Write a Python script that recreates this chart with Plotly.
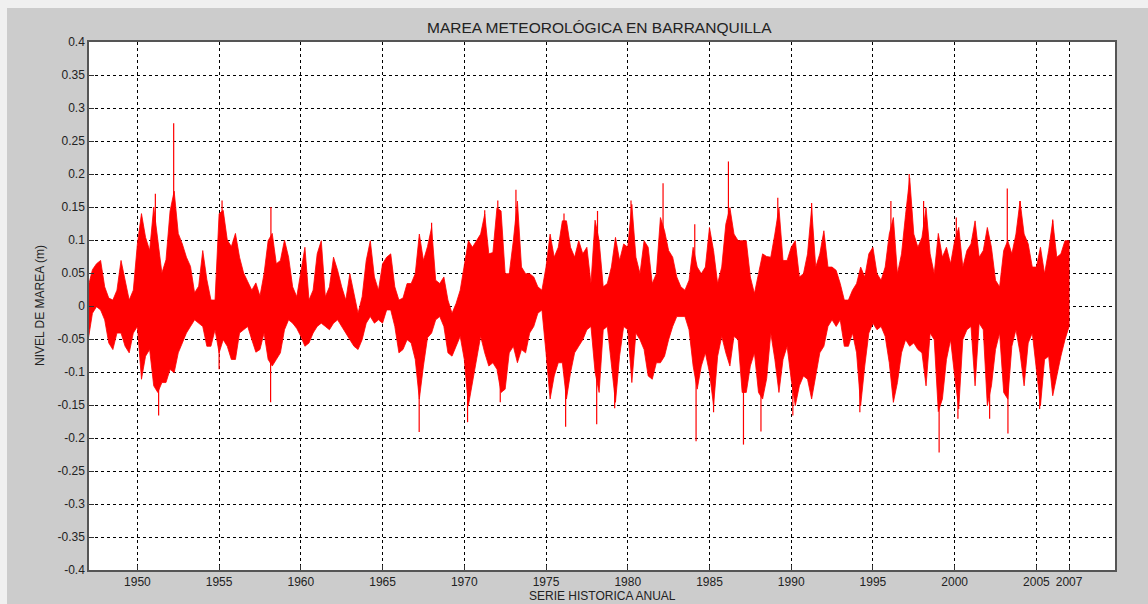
import numpy as np
import plotly.graph_objects as go

# Quarter-year sampling grid of the meteorological tide record
t_grid = np.arange(1947.0, 2007.001, 0.25)

# Upper envelope of the tide level per quarter (m)
nivel_max = [
    0.03, 0.055, 0.064, 0.069,   0.029, 0.012, 0.009, 0.024,   0.069, 0.04, 0.009, 0.024,
    0.094, 0.14, 0.104, 0.084,   0.15, 0.10, 0.05, 0.07,       0.144, 0.174, 0.11, 0.094,
    0.074, 0.06, 0.02, 0.03,     0.084, 0.04, 0.009, 0.009,    0.14, 0.145, 0.10, 0.09,
    0.11, 0.074, 0.05, 0.037,    0.024, 0.035, 0.015, 0.049,   0.099, 0.11, 0.064, 0.069,
    0.10, 0.074, 0.029, 0.014,   0.049, 0.089, 0.009, 0.024,   0.079, 0.099, 0.014, 0.029,
    0.074, 0.054, 0.029, 0.009,  0.049, 0.019, -0.011, 0.014,  0.069, 0.099, 0.044, 0.024,
    0.064, 0.074, 0.079, 0.029,  0.009, 0.012, 0.034, 0.034,   0.049, 0.109, 0.069, 0.09,
    0.119, 0.039, 0.034, 0.044,  0.009, -0.011, 0.004, 0.024,  0.059, 0.099, 0.089, 0.099,
    0.109, 0.139, 0.079, 0.081,  0.149, 0.144, 0.049, 0.049,   0.099, 0.159, 0.059, 0.049,
    0.049, 0.044, 0.029, 0.024,  0.059, 0.109, 0.074, 0.089,   0.129, 0.129, 0.089, 0.074,
    0.099, 0.079, 0.089, 0.034,  0.13, 0.099, 0.029, 0.034,    0.059, 0.104, 0.069, 0.094,
    0.089, 0.154, 0.074, 0.049,  0.099, 0.089, 0.034, 0.049,   0.134, 0.114, 0.084, 0.074,
    0.044, 0.029, 0.024, 0.039,  0.089, 0.059, 0.049, 0.059,   0.119, 0.084, 0.034, 0.059,
    0.124, 0.149, 0.109, 0.099,  0.099, 0.099, 0.044, 0.019,   0.049, 0.079, 0.075, 0.074,
    0.109, 0.149, 0.069, 0.069,  0.089, 0.099, 0.044, 0.049,   0.079, 0.149, 0.059, 0.079,
    0.114, 0.059, 0.059, 0.054,  0.034, 0.009, 0.009, 0.024,   0.034, 0.059, 0.044, 0.079,
    0.089, 0.049, 0.039, 0.059,  0.109, 0.134, 0.049, 0.079,   0.139, 0.194, 0.109, 0.089,
    0.104, 0.149, 0.079, 0.049,  0.11, 0.074, 0.089, 0.064,    0.099, 0.119, 0.059, 0.084,
    0.094, 0.129, 0.074, 0.084,  0.119, 0.089, 0.039, 0.029,   0.084, 0.099, 0.079, 0.109,
    0.159, 0.109, 0.094, 0.059,  0.059, 0.089, 0.049, 0.084,   0.129, 0.074, 0.079, 0.099,
    0.099,
]

# Lower envelope of the tide level per quarter (m)
nivel_min = [
    -0.05, -0.011, -0.001, -0.006,  -0.021, -0.056, -0.066, -0.041,  -0.041, -0.061, -0.071, -0.041,
    -0.031, -0.111, -0.076, -0.066, -0.121, -0.131, -0.116, -0.116,  -0.096, -0.101, -0.071, -0.056,
    -0.041, -0.031, -0.021, -0.026, -0.031, -0.061, -0.061, -0.036,  -0.071, -0.051, -0.061, -0.081,
    -0.081, -0.041, -0.036, -0.031, -0.051, -0.07, -0.066, -0.041,   -0.081, -0.091, -0.081, -0.071,
    -0.036, -0.021, -0.026, -0.034, -0.046, -0.061, -0.056, -0.041,  -0.031, -0.026, -0.031, -0.036,
    -0.026, -0.021, -0.031, -0.041, -0.051, -0.061, -0.066, -0.051,  -0.026, -0.016, -0.026, -0.021,
    -0.026, -0.006, -0.006, -0.031, -0.071, -0.066, -0.051, -0.056,  -0.081, -0.141, -0.091, -0.048,
    -0.041, -0.021, -0.016, -0.031, -0.071, -0.076, -0.061, -0.046,  -0.081, -0.151, -0.111, -0.081,
    -0.046, -0.071, -0.091, -0.086, -0.096, -0.131, -0.126, -0.071,  -0.061, -0.086, -0.066, -0.071,
    -0.041, -0.031, -0.011, -0.006, -0.071, -0.141, -0.106, -0.086,  -0.086, -0.141, -0.101, -0.071,
    -0.061, -0.051, -0.036, -0.031, -0.10, -0.131, -0.036, -0.031,   -0.086, -0.146, -0.076, -0.031,
    -0.036, -0.116, -0.041, -0.051, -0.066, -0.106, -0.111, -0.086,  -0.086, -0.076, -0.051, -0.031,
    -0.016, -0.016, -0.016, -0.036, -0.091, -0.126, -0.091, -0.071,  -0.101, -0.151, -0.076, -0.046,
    -0.071, -0.091, -0.046, -0.051, -0.131, -0.131, -0.091, -0.071,  -0.131, -0.141, -0.11, -0.041,
    -0.081, -0.131, -0.081, -0.061, -0.111, -0.151, -0.121, -0.106,  -0.111, -0.141, -0.106, -0.071,
    -0.061, -0.031, -0.021, -0.031, -0.021, -0.061, -0.061, -0.041,  -0.071, -0.151, -0.091, -0.041,
    -0.026, -0.036, -0.031, -0.046, -0.086, -0.146, -0.116, -0.071,  -0.051, -0.061, -0.056, -0.066,
    -0.071, -0.121, -0.041, -0.051, -0.16, -0.141, -0.081, -0.051,   -0.106, -0.156, -0.051, -0.036,
    -0.031, -0.121, -0.026, -0.036, -0.151, -0.121, -0.066, -0.041,  -0.131, -0.141, -0.061, -0.036,
    -0.071, -0.121, -0.056, -0.041, -0.091, -0.151, -0.081, -0.076,  -0.136, -0.106, -0.076, -0.051,
    -0.031,
]

# Isolated surge peaks rising above the envelope (year, m)
pico_t = [1951.1, 1952.22, 1955.18, 1958.17, 1968.0, 1971.25, 1972.05, 1973.16, 1976.1,
          1978.15, 1980.2, 1982.16, 1984.1, 1986.16, 1989.18, 1991.25, 1996.1, 1997.22,
          1998.1, 2000.1, 2003.22, 2004.0, 2006.0]
pico_v = [0.17, 0.277, 0.16, 0.15, 0.126, 0.145, 0.16, 0.176, 0.14,
          0.144, 0.16, 0.186, 0.124, 0.219, 0.164, 0.156, 0.159, 0.2,
          0.159, 0.134, 0.178, 0.159, 0.131]

# Isolated drops below the envelope (year, m)
valle_t = [1951.3, 1955.0, 1958.15, 1967.24, 1970.2, 1972.2, 1976.2, 1978.1, 1979.2,
           1984.18, 1985.25, 1987.08, 1988.15, 1990.1, 1994.2, 1999.05, 2000.2, 2002.14,
           2003.26, 2005.2]
valle_v = [-0.166, -0.096, -0.146, -0.191, -0.176, -0.146, -0.183, -0.179, -0.155,
           -0.205, -0.161, -0.21, -0.19, -0.166, -0.161, -0.222, -0.171, -0.171,
           -0.193, -0.156]

# Axis ticks
x_ticks = [1950, 1955, 1960, 1965, 1970, 1975, 1980, 1985, 1990, 1995, 2000, 2005, 2007]
y_ticks = [round(0.4 - 0.05 * i, 2) for i in range(17)]
y_tick_text = ["0" if v == 0 else f"{v:g}" for v in y_ticks]

ROJO = "#ff0000"
FONT = "Liberation Sans, Arial, sans-serif"

fig = go.Figure()

# Filled band between the upper and lower envelopes
band_x = list(t_grid) + list(t_grid[::-1])
band_y = list(nivel_max) + list(nivel_min[::-1])
fig.add_trace(go.Scatter(
    x=band_x, y=band_y, mode="lines", fill="toself",
    fillcolor=ROJO, line=dict(color=ROJO, width=0.8),
    hoverinfo="skip", showlegend=False,
))

# Thin spikes for individual extreme values
sx, sy = [], []
for t, v in zip(pico_t + valle_t, pico_v + valle_v):
    sx += [t, t, None]
    sy += [0.0, v, None]
fig.add_trace(go.Scatter(
    x=sx, y=sy, mode="lines", line=dict(color=ROJO, width=1.2),
    hoverinfo="skip", showlegend=False,
))

W, H = 1148, 604
ML, MR, MT, MB = 89, 33, 42, 34
PW, PH = W - ML - MR, H - MT - MB


def px(xp):
    return (xp - ML) / PW


def py(yp):
    return (H - MB - yp) / PH


grid_common = dict(
    showgrid=True, gridcolor="#000000", gridwidth=1, griddash="3px,3px",
    showline=True, mirror=True, linecolor="#555555", linewidth=1.5,
    ticks="inside", ticklen=5, tickcolor="#333333", tickwidth=1,
    zeroline=False,
    tickfont=dict(family=FONT, size=12, color="#222222"),
)

fig.update_xaxes(
    range=[1947.04, 2009.81], tickmode="array", tickvals=x_ticks,
    ticktext=[str(v) for v in x_ticks], **grid_common,
)
fig.update_yaxes(
    range=[-0.4, 0.4], tickmode="array", tickvals=y_ticks,
    ticktext=y_tick_text, **grid_common,
)

fig.update_layout(
    width=W, height=H,
    margin=dict(l=ML, r=MR, t=MT, b=MB, pad=0),
    paper_bgcolor="#cccccc", plot_bgcolor="#ffffff",
    showlegend=False,
    font=dict(family=FONT, color="#222222"),
    shapes=[
        # light window strips along the top and left edges
        dict(type="rect", xref="paper", yref="paper", x0=px(0), x1=px(W), y0=py(8), y1=py(0),
             fillcolor="#f0f0f0", line=dict(width=0), layer="below"),
        dict(type="rect", xref="paper", yref="paper", x0=px(0), x1=px(7), y0=py(H), y1=py(8),
             fillcolor="#f0f0f0", line=dict(width=0), layer="below"),
    ],
    annotations=[
        dict(text="MAREA METEOROLÓGICA EN BARRANQUILLA", xref="paper", yref="paper",
             x=px(599), y=py(27), showarrow=False, xanchor="center", yanchor="middle",
             font=dict(family=FONT, size=15.5, color="#222222")),
        dict(text="SERIE HISTORICA ANUAL", xref="paper", yref="paper",
             x=px(602), y=py(596), showarrow=False, xanchor="center", yanchor="middle",
             font=dict(family=FONT, size=12, color="#222222")),
        dict(text="NIVEL DE MAREA (m)", xref="paper", yref="paper",
             x=px(40), y=py(306), showarrow=False, textangle=-90,
             xanchor="center", yanchor="middle",
             font=dict(family=FONT, size=12, color="#222222")),
    ],
)

fig.write_html("out.html")
